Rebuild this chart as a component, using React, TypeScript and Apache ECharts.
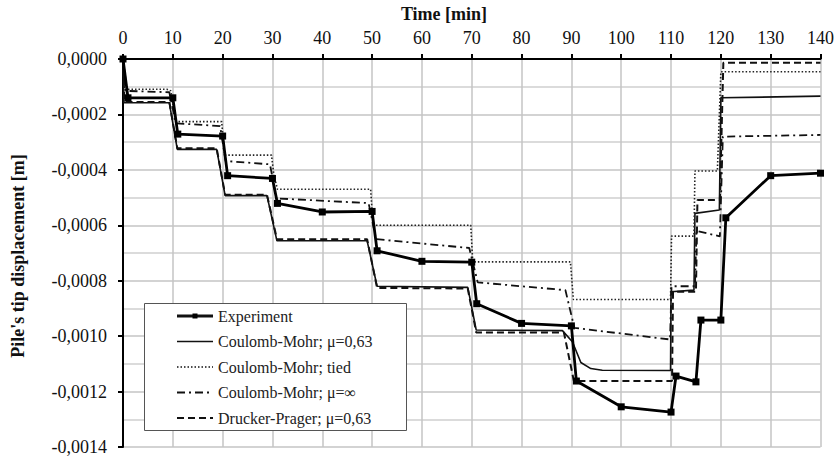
import React, { useEffect, useRef } from "react";
import * as echarts from "echarts";

// Experiment
const expTime = [0, 1, 10, 11, 20, 21, 30, 31, 40, 50, 51, 60, 70, 71, 80, 90, 91, 100, 110, 111, 115, 116, 120, 121, 130, 140];
const expDisp = [0, -0.00014, -0.00014, -0.000271, -0.000278, -0.000421, -0.000431, -0.000521, -0.000552, -0.00055, -0.000692, -0.00073, -0.000733, -0.000883, -0.000954, -0.000963, -0.001162, -0.001255, -0.001274, -0.001144, -0.001165, -0.000942, -0.000942, -0.000573, -0.000421, -0.000412];

// Coulomb-Mohr; mu=0,63
const cmTime = [0, 0.2, 9.3, 10.9, 18.8, 20.5, 28.9, 30.9, 49, 51, 69.2, 70.9, 88.2, 90.2, 91.9, 93.9, 96.2, 109.9, 110, 114.6, 114.8, 119.7, 120, 140];
const cmDisp = [0, -0.000158, -0.000158, -0.000326, -0.000326, -0.000493, -0.000493, -0.000656, -0.000656, -0.00082, -0.000824, -0.000978, -0.00098, -0.00102, -0.001095, -0.001117, -0.001123, -0.001124, -0.00084, -0.000834, -0.000557, -0.000545, -0.00014, -0.000134];

// Coulomb-Mohr; tied
const tiedTime = [0, 0.8, 8.8, 9.6, 10.6, 19.8, 20.4, 29.8, 30.3, 31, 49.7, 50.2, 69.8, 70.2, 89.8, 90.4, 109.9, 110.1, 114.6, 114.8, 119.3, 120, 140];
const tiedDisp = [0, -0.000109, -0.000109, -0.000115, -0.000226, -0.000226, -0.000347, -0.000347, -0.00042, -0.00047, -0.00047, -0.0006, -0.0006, -0.000732, -0.000732, -0.000868, -0.000868, -0.000639, -0.000639, -0.000404, -0.000404, -0.000046, -0.000046];

// Coulomb-Mohr; mu=inf
const infTime = [0, 0.5, 9.3, 10.6, 19.5, 20.6, 29.5, 30.8, 49.3, 50.8, 69.5, 71.2, 88.8, 90.6, 109.8, 110.1, 114.8, 115.1, 119.8, 120.4, 140];
const infDisp = [0, -0.000115, -0.00012, -0.000232, -0.000242, -0.000368, -0.00038, -0.000503, -0.00052, -0.00065, -0.000682, -0.000806, -0.000834, -0.00097, -0.001012, -0.00082, -0.00082, -0.00062, -0.00064, -0.00028, -0.000274];

// Drucker-Prager; mu=0,63
const dpTime = [0, 0.3, 9.3, 10.9, 18.8, 20.5, 28.9, 30.9, 49, 51, 69.2, 70.9, 88.5, 90.5, 110.2, 110.4, 115, 115.3, 119.8, 120.5, 140];
const dpDisp = [0, -0.000155, -0.000155, -0.000322, -0.000322, -0.00049, -0.00049, -0.00065, -0.00065, -0.000826, -0.000828, -0.000987, -0.000987, -0.001162, -0.001162, -0.00084, -0.00084, -0.000509, -0.000509, -0.0000134, -0.0000134];

const seriesNames = [
  "Experiment",
  "Coulomb-Mohr; μ=0,63",
  "Coulomb-Mohr; tied",
  "Coulomb-Mohr; μ=∞",
  "Drucker-Prager; μ=0,63",
];

const FAMILY = "Liberation Serif";

const STYLES: any[] = [
  { width: 2.8, dash: null, marker: true },
  { width: 1.6, dash: null, marker: false },
  { width: 1.6, dash: [1.5, 2], marker: false },
  { width: 1.8, dash: [8, 4, 2, 4], marker: false },
  { width: 2, dash: [7, 4], marker: false },
];

const zip = (t: number[], v: number[]) => t.map((x, i) => [x, v[i]]);

export default function App() {
  const ref = useRef<HTMLDivElement>(null);
  useEffect(() => {
    if (!ref.current) return;
    const chart = echarts.init(ref.current, undefined, { renderer: "svg" });
    const fmt = (v: number) =>
      Math.abs(v) < 1e-12 ? "0,0000" : v.toFixed(4).replace(".", ",");

    // legend drawn as graphic
    const lgX = 144, lgY = 303, lgW = 262, lgH = 127;
    const rowY0 = 316, rowStep = 25.5;
    const Z = 100;
    const legendChildren: any[] = [
      {
        type: "rect",
        z: Z,
        shape: { x: lgX + 0.5, y: lgY + 0.5, width: lgW, height: lgH },
        style: { fill: "#ffffff", stroke: "#555", lineWidth: 1 },
      },
    ];
    seriesNames.forEach((name, i) => {
      const y = rowY0 + i * rowStep;
      const s = STYLES[i];
      legendChildren.push({
        type: "line",
        z: Z + 1,
        shape: { x1: 177, y1: y, x2: 213, y2: y },
        style: { stroke: "#111", lineWidth: s.width, lineDash: s.dash || undefined },
      });
      if (s.marker) {
        legendChildren.push({
          type: "rect",
          z: Z + 2,
          shape: { x: 192.5, y: y - 2.5, width: 5, height: 5 },
          style: { fill: "#000" },
        });
      }
      legendChildren.push({
        type: "text",
        z: Z + 1,
        x: 218,
        y: y,
        style: {
          text: name,
          fontFamily: FAMILY,
          fontSize: 16,
          fill: "#222",
          align: "left",
          verticalAlign: "middle",
        },
      });
    });

    chart.setOption({
      animation: false,
      backgroundColor: "#fff",
      textStyle: { fontFamily: FAMILY },
      grid: { left: 123, top: 59, right: 15, bottom: 11 },
      xAxis: {
        type: "value",
        position: "top",
        min: 0,
        max: 140,
        interval: 10,
        axisLine: { show: true, onZero: false, lineStyle: { color: "#000", width: 2 } },
        axisTick: { show: true, inside: false, length: 5, lineStyle: { color: "#000", width: 2 } },
        axisLabel: { fontFamily: FAMILY, fontSize: 18, color: "#111", margin: 12 },
        splitLine: { show: true, lineStyle: { color: "#c4c4c4", width: 1.5 } },
      },
      yAxis: {
        type: "value",
        min: -0.0014,
        max: 0,
        interval: 0.0002,
        axisLine: { show: true, onZero: false, lineStyle: { color: "#000", width: 2 } },
        axisTick: { show: true, inside: false, length: 5, lineStyle: { color: "#000", width: 2 } },
        axisLabel: { fontFamily: FAMILY, fontSize: 18, color: "#111", margin: 16, formatter: fmt },
        splitLine: { show: true, lineStyle: { color: "#c4c4c4", width: 1.5 } },
        minorTick: { show: false, splitNumber: 2 },
        minorSplitLine: { show: true, lineStyle: { color: "#cfcfcf", width: 1.5 } },
      },
      graphic: [
        {
          type: "text",
          x: 444,
          y: 14,
          style: {
            text: "Time [min]",
            fontFamily: FAMILY,
            fontSize: 18,
            fontWeight: "bold",
            fill: "#111",
            align: "center",
            verticalAlign: "middle",
          },
        },
        {
          type: "text",
          x: 18,
          y: 256,
          rotation: Math.PI / 2,
          style: {
            text: "Pile's tip displacement [m]",
            fontFamily: FAMILY,
            fontSize: 18,
            fontWeight: "bold",
            fill: "#111",
            align: "center",
            verticalAlign: "middle",
          },
        },
        ...legendChildren,
      ],
      series: [
        {
          name: seriesNames[1],
          type: "line",
          data: zip(cmTime, cmDisp),
          showSymbol: false,
          symbol: "none",
          lineStyle: { color: "#111", width: STYLES[1].width, type: "solid" },
          z: 3,
        },
        {
          name: seriesNames[2],
          type: "line",
          data: zip(tiedTime, tiedDisp),
          showSymbol: false,
          symbol: "none",
          lineStyle: { color: "#222", width: STYLES[2].width, type: STYLES[2].dash },
          z: 3,
        },
        {
          name: seriesNames[3],
          type: "line",
          data: zip(infTime, infDisp),
          showSymbol: false,
          symbol: "none",
          lineStyle: { color: "#111", width: STYLES[3].width, type: STYLES[3].dash },
          z: 3,
        },
        {
          name: seriesNames[4],
          type: "line",
          data: zip(dpTime, dpDisp),
          showSymbol: false,
          symbol: "none",
          lineStyle: { color: "#111", width: STYLES[4].width, type: STYLES[4].dash },
          z: 3,
        },
        {
          name: seriesNames[0],
          type: "line",
          data: zip(expTime, expDisp),
          symbol: "rect",
          symbolSize: 7,
          showSymbol: true,
          lineStyle: { color: "#000", width: STYLES[0].width },
          itemStyle: { color: "#000" },
          z: 4,
        },
      ],
    });
    return () => chart.dispose();
  }, []);
  return (
    <div
      ref={ref}
      style={{ position: "fixed", left: 0, top: 0, width: 837, height: 458 }}
    />
  );
}
